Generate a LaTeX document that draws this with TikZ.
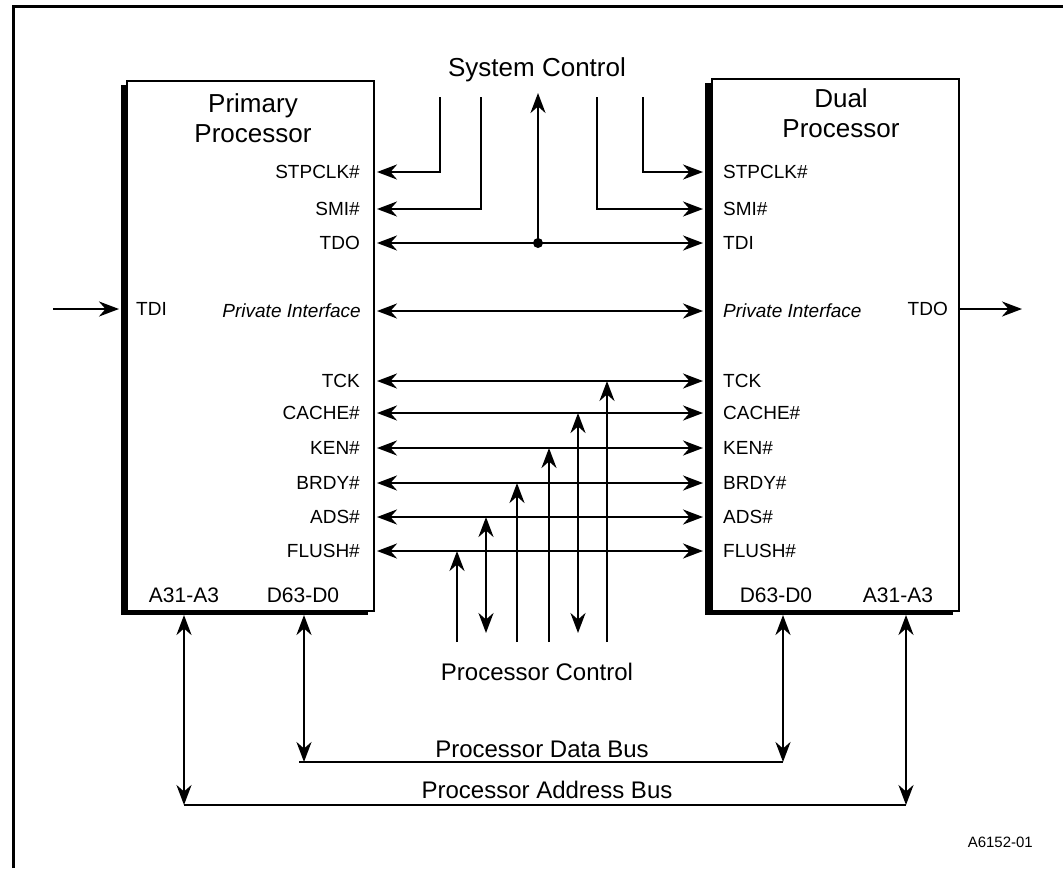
\documentclass[tikz,border=0pt]{standalone}
\usepackage{fontspec}
\setmainfont{Liberation Sans}
\usetikzlibrary{arrows.meta}
\begin{document}
\begin{tikzpicture}[x=1pt,y=-1pt,
  wire/.style={line width=2.6pt},
  tip/.style={wire,-{Stealth[length=20pt,width=15pt,inset=6.5pt]}},
  both/.style={wire,{Stealth[length=20pt,width=15pt,inset=6.5pt]}-{Stealth[length=20pt,width=15pt,inset=6.5pt]}},
  pinlab/.style={font=\fontsize{19}{22}\selectfont, inner sep=0pt},
  buslab/.style={font=\fontsize{21}{24}\selectfont, inner sep=0pt, anchor=base},
  titlelab/.style={font=\fontsize{26}{30}\selectfont, inner sep=0pt, anchor=base},
  biglab/.style={font=\fontsize{24}{28}\selectfont, inner sep=0pt, anchor=base},
  procbox/.style={draw, line width=2pt, fill=white, inner sep=0pt, anchor=north west},
  shadow/.style={fill=black}
]
\useasboundingbox (0,0) rectangle (1063,868);
% outer frame
\draw[line width=3pt] (13,868) -- (13,6) -- (1063,6);

% boxes
\fill[shadow] (121,85) rectangle (368,615);
\node[procbox, minimum width=247pt, minimum height=530pt] (pp) at (126,80) {};
\fill[shadow] (705,83) rectangle (953,615);
\node[procbox, minimum width=247pt, minimum height=532pt] (dp) at (711,78) {};

% titles
\node[titlelab] (pt1) at (253,112) {Primary};
\node[titlelab] (pt2) at (253,142) {Processor};
\node[titlelab] (dt1) at (841,107) {Dual};
\node[titlelab] (dt2) at (841,137) {Processor};
\node[titlelab] (sysc) at (537,76) {System Control};
\node[biglab] (pctl) at (537,680) {Processor Control};
\node[biglab] (dbus) at (542,757) {Processor Data Bus};
\node[biglab] (abus) at (547,798) {Processor Address Bus};
\node[font=\fontsize{15}{18}\selectfont, inner sep=0pt, anchor=base east] (fid) at (1033,847) {A6152-01};

% left pin labels
\foreach \t/\y in {STPCLK\#/172, SMI\#/209, TDO/243, TCK/381, CACHE\#/413, KEN\#/448, BRDY\#/483, ADS\#/517, FLUSH\#/551}
  \node[pinlab, anchor=base east] at (360,\y+6.8) {\t};
\node[pinlab, anchor=base east] (lpi) at (361,311+6.8) {\itshape Private Interface};
\node[pinlab, anchor=base west] (ltdi) at (136,309+6.8) {TDI};
% right pin labels
\foreach \t/\y in {STPCLK\#/172, SMI\#/209, TDI/243, TCK/381, CACHE\#/413, KEN\#/448, BRDY\#/483, ADS\#/517, FLUSH\#/551}
  \node[pinlab, anchor=base west] at (723,\y+6.8) {\t};
\node[pinlab, anchor=base west] (rpi) at (723,311+6.8) {\itshape Private Interface};
\node[pinlab, anchor=base east] (rtdo) at (948,309+6.8) {TDO};
% bus labels
\node[buslab] (la) at (184,602) {A31-A3};
\node[buslab] (ld) at (303,602) {D63-D0};
\node[buslab] (rd) at (776,602) {D63-D0};
\node[buslab] (ra) at (898,602) {A31-A3};

% coordinates
\coordinate (s1) at (440,97);
\coordinate (s2) at (481,97);
\coordinate (s3) at (538,93);
\coordinate (s4) at (597,97);
\coordinate (s5) at (643,97);
\coordinate (jn) at (538,243);
\coordinate (tdiin) at (53,309);
\coordinate (tdiend) at (119,309);
\coordinate (tdostart) at (958,309);
\coordinate (tdoout) at (1022,309);

% system control
\draw[tip] (s1) |- (377,172);
\draw[tip] (s2) |- (377,209);
\draw[tip] (s5) |- (703,172);
\draw[tip] (s4) |- (703,209);
\draw[both] (377,243) -- (703,243);
\draw[tip] (jn) -- (s3);
\fill (jn) circle (5pt);

% TDI / TDO chain
\draw[tip] (tdiin) -- (tdiend);
\draw[tip] (tdostart) -- (tdoout);

% private interface
\draw[both] (377,311) -- (703,311);

% processor control
\foreach \y in {381,413,448,483,517,551}
  \draw[both] (377,\y) -- (703,\y);
\draw[tip] (457,642) -- (457,551);
\draw[both] (486,633) -- (486,517);
\draw[tip] (517,642) -- (517,483);
\draw[tip] (549,642) -- (549,448);
\draw[both] (578,633) -- (578,413);
\draw[tip] (607,642) -- (607,381);

% buses
\coordinate (lab) at (184,805);
\coordinate (rab) at (906,805);
\coordinate (ldb) at (304,762);
\coordinate (rdb) at (783,762);
\draw[both] (184,615) -- (lab);
\draw[both] (906,615) -- (rab);
\draw[wire] (lab) -- (rab);
\draw[both] (304,615) -- (ldb);
\draw[both] (783,615) -- (rdb);
\draw[wire] (299,762) -- (rdb);
\end{tikzpicture}
\end{document}
